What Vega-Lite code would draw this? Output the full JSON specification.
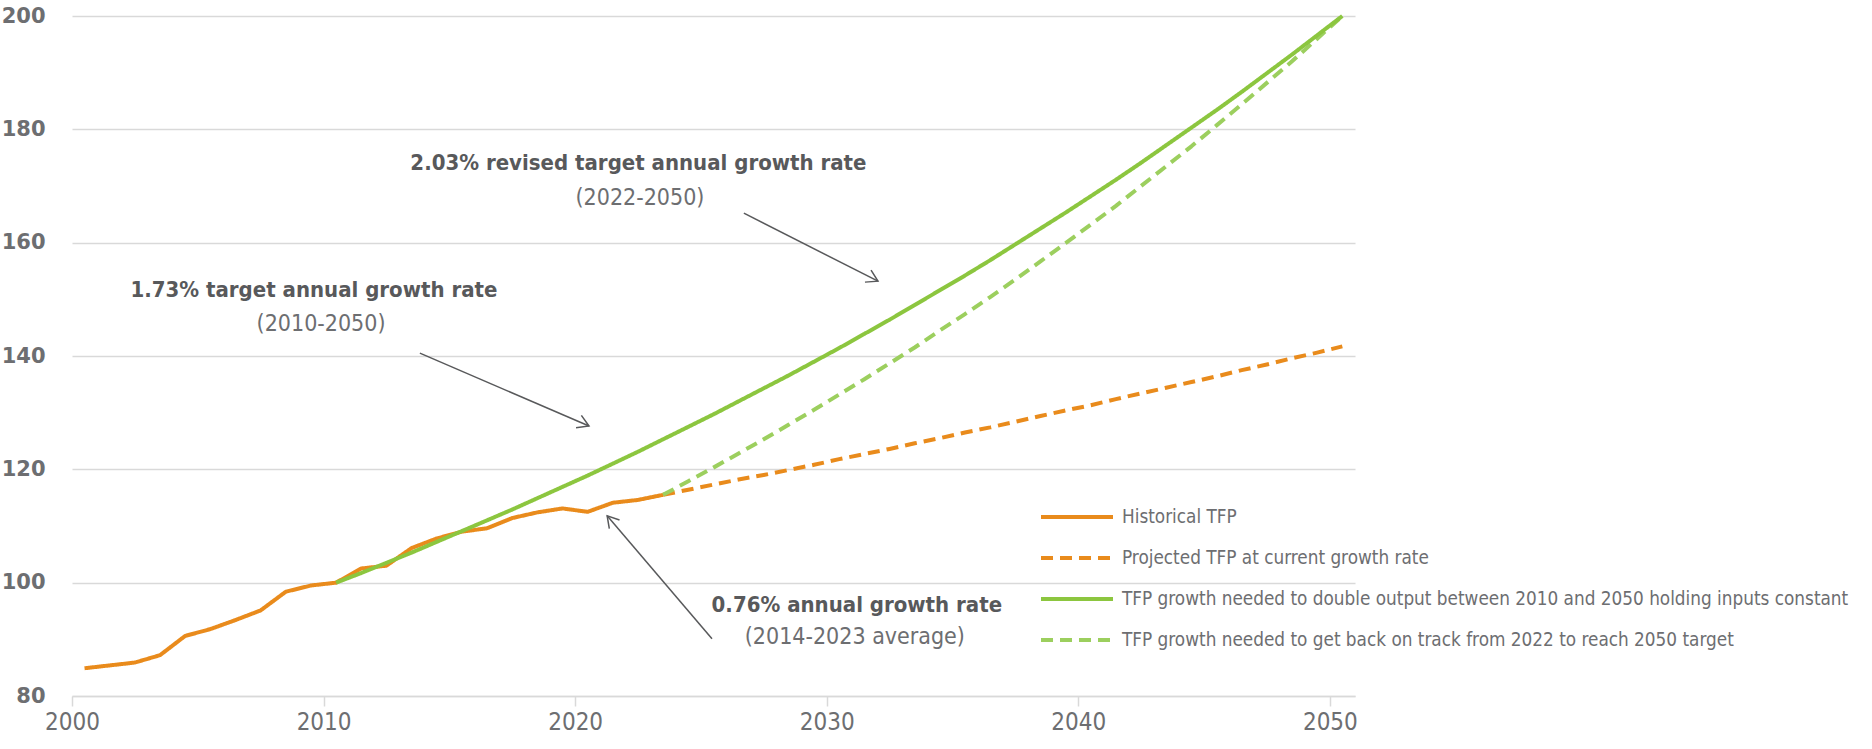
{
  "$schema": "https://vega.github.io/schema/vega-lite/v6.json",
  "width": 1283,
  "height": 680,
  "autosize": {"type": "none"},
  "padding": {"left": 72, "top": 16, "right": 517, "bottom": 53},
  "background": "white",
  "config": {"view": {"stroke": null}, "font": "DejaVu Sans Condensed, sans-serif"},
  "datasets": {
    "tfp": [
      {"series": "Historical TFP", "date": "2000-07-01", "value": 84.9},
      {"series": "Historical TFP", "date": "2001-07-01", "value": 85.4},
      {"series": "Historical TFP", "date": "2002-07-01", "value": 85.9},
      {"series": "Historical TFP", "date": "2003-07-01", "value": 87.2},
      {"series": "Historical TFP", "date": "2004-07-01", "value": 90.6},
      {"series": "Historical TFP", "date": "2005-07-01", "value": 91.8},
      {"series": "Historical TFP", "date": "2006-07-01", "value": 93.4},
      {"series": "Historical TFP", "date": "2007-07-01", "value": 95.1},
      {"series": "Historical TFP", "date": "2008-07-01", "value": 98.4},
      {"series": "Historical TFP", "date": "2009-07-01", "value": 99.5},
      {"series": "Historical TFP", "date": "2010-07-01", "value": 100.0},
      {"series": "Historical TFP", "date": "2011-07-01", "value": 102.5},
      {"series": "Historical TFP", "date": "2012-07-01", "value": 103.0},
      {"series": "Historical TFP", "date": "2013-07-01", "value": 106.1},
      {"series": "Historical TFP", "date": "2014-07-01", "value": 107.8},
      {"series": "Historical TFP", "date": "2015-07-01", "value": 109.0},
      {"series": "Historical TFP", "date": "2016-07-01", "value": 109.6},
      {"series": "Historical TFP", "date": "2017-07-01", "value": 111.4},
      {"series": "Historical TFP", "date": "2018-07-01", "value": 112.4},
      {"series": "Historical TFP", "date": "2019-07-01", "value": 113.1},
      {"series": "Historical TFP", "date": "2020-07-01", "value": 112.5},
      {"series": "Historical TFP", "date": "2021-07-01", "value": 114.1},
      {"series": "Historical TFP", "date": "2022-07-01", "value": 114.6},
      {"series": "Historical TFP", "date": "2023-07-01", "value": 115.5},
      {"series": "Projected TFP at current growth rate", "date": "2023-07-01", "value": 115.5},
      {"series": "Projected TFP at current growth rate", "date": "2024-07-01", "value": 116.4},
      {"series": "Projected TFP at current growth rate", "date": "2025-07-01", "value": 117.3},
      {"series": "Projected TFP at current growth rate", "date": "2026-07-01", "value": 118.2},
      {"series": "Projected TFP at current growth rate", "date": "2027-07-01", "value": 119.0},
      {"series": "Projected TFP at current growth rate", "date": "2028-07-01", "value": 119.9},
      {"series": "Projected TFP at current growth rate", "date": "2029-07-01", "value": 120.8},
      {"series": "Projected TFP at current growth rate", "date": "2030-07-01", "value": 121.8},
      {"series": "Projected TFP at current growth rate", "date": "2031-07-01", "value": 122.7},
      {"series": "Projected TFP at current growth rate", "date": "2032-07-01", "value": 123.6},
      {"series": "Projected TFP at current growth rate", "date": "2033-07-01", "value": 124.6},
      {"series": "Projected TFP at current growth rate", "date": "2034-07-01", "value": 125.5},
      {"series": "Projected TFP at current growth rate", "date": "2035-07-01", "value": 126.5},
      {"series": "Projected TFP at current growth rate", "date": "2036-07-01", "value": 127.4},
      {"series": "Projected TFP at current growth rate", "date": "2037-07-01", "value": 128.4},
      {"series": "Projected TFP at current growth rate", "date": "2038-07-01", "value": 129.4},
      {"series": "Projected TFP at current growth rate", "date": "2039-07-01", "value": 130.4},
      {"series": "Projected TFP at current growth rate", "date": "2040-07-01", "value": 131.3},
      {"series": "Projected TFP at current growth rate", "date": "2041-07-01", "value": 132.4},
      {"series": "Projected TFP at current growth rate", "date": "2042-07-01", "value": 133.4},
      {"series": "Projected TFP at current growth rate", "date": "2043-07-01", "value": 134.4},
      {"series": "Projected TFP at current growth rate", "date": "2044-07-01", "value": 135.4},
      {"series": "Projected TFP at current growth rate", "date": "2045-07-01", "value": 136.4},
      {"series": "Projected TFP at current growth rate", "date": "2046-07-01", "value": 137.5},
      {"series": "Projected TFP at current growth rate", "date": "2047-07-01", "value": 138.5},
      {"series": "Projected TFP at current growth rate", "date": "2048-07-01", "value": 139.6},
      {"series": "Projected TFP at current growth rate", "date": "2049-07-01", "value": 140.6},
      {"series": "Projected TFP at current growth rate", "date": "2050-07-01", "value": 141.7},
      {"series": "TFP growth needed to get back on track from 2022 to reach 2050 target", "date": "2023-07-01", "value": 115.5},
      {"series": "TFP growth needed to get back on track from 2022 to reach 2050 target", "date": "2024-07-01", "value": 117.9},
      {"series": "TFP growth needed to get back on track from 2022 to reach 2050 target", "date": "2025-07-01", "value": 120.3},
      {"series": "TFP growth needed to get back on track from 2022 to reach 2050 target", "date": "2026-07-01", "value": 122.8},
      {"series": "TFP growth needed to get back on track from 2022 to reach 2050 target", "date": "2027-07-01", "value": 125.3},
      {"series": "TFP growth needed to get back on track from 2022 to reach 2050 target", "date": "2028-07-01", "value": 127.9},
      {"series": "TFP growth needed to get back on track from 2022 to reach 2050 target", "date": "2029-07-01", "value": 130.5},
      {"series": "TFP growth needed to get back on track from 2022 to reach 2050 target", "date": "2030-07-01", "value": 133.2},
      {"series": "TFP growth needed to get back on track from 2022 to reach 2050 target", "date": "2031-07-01", "value": 135.9},
      {"series": "TFP growth needed to get back on track from 2022 to reach 2050 target", "date": "2032-07-01", "value": 138.7},
      {"series": "TFP growth needed to get back on track from 2022 to reach 2050 target", "date": "2033-07-01", "value": 141.5},
      {"series": "TFP growth needed to get back on track from 2022 to reach 2050 target", "date": "2034-07-01", "value": 144.5},
      {"series": "TFP growth needed to get back on track from 2022 to reach 2050 target", "date": "2035-07-01", "value": 147.4},
      {"series": "TFP growth needed to get back on track from 2022 to reach 2050 target", "date": "2036-07-01", "value": 150.4},
      {"series": "TFP growth needed to get back on track from 2022 to reach 2050 target", "date": "2037-07-01", "value": 153.5},
      {"series": "TFP growth needed to get back on track from 2022 to reach 2050 target", "date": "2038-07-01", "value": 156.7},
      {"series": "TFP growth needed to get back on track from 2022 to reach 2050 target", "date": "2039-07-01", "value": 159.9},
      {"series": "TFP growth needed to get back on track from 2022 to reach 2050 target", "date": "2040-07-01", "value": 163.2},
      {"series": "TFP growth needed to get back on track from 2022 to reach 2050 target", "date": "2041-07-01", "value": 166.5},
      {"series": "TFP growth needed to get back on track from 2022 to reach 2050 target", "date": "2042-07-01", "value": 170.0},
      {"series": "TFP growth needed to get back on track from 2022 to reach 2050 target", "date": "2043-07-01", "value": 173.5},
      {"series": "TFP growth needed to get back on track from 2022 to reach 2050 target", "date": "2044-07-01", "value": 177.0},
      {"series": "TFP growth needed to get back on track from 2022 to reach 2050 target", "date": "2045-07-01", "value": 180.7},
      {"series": "TFP growth needed to get back on track from 2022 to reach 2050 target", "date": "2046-07-01", "value": 184.4},
      {"series": "TFP growth needed to get back on track from 2022 to reach 2050 target", "date": "2047-07-01", "value": 188.2},
      {"series": "TFP growth needed to get back on track from 2022 to reach 2050 target", "date": "2048-07-01", "value": 192.0},
      {"series": "TFP growth needed to get back on track from 2022 to reach 2050 target", "date": "2049-07-01", "value": 196.0},
      {"series": "TFP growth needed to get back on track from 2022 to reach 2050 target", "date": "2050-07-01", "value": 200.0},
      {"series": "TFP growth needed to double output between 2010 and 2050 holding inputs constant", "date": "2010-07-01", "value": 100.0},
      {"series": "TFP growth needed to double output between 2010 and 2050 holding inputs constant", "date": "2011-07-01", "value": 101.7},
      {"series": "TFP growth needed to double output between 2010 and 2050 holding inputs constant", "date": "2012-07-01", "value": 103.5},
      {"series": "TFP growth needed to double output between 2010 and 2050 holding inputs constant", "date": "2013-07-01", "value": 105.3},
      {"series": "TFP growth needed to double output between 2010 and 2050 holding inputs constant", "date": "2014-07-01", "value": 107.2},
      {"series": "TFP growth needed to double output between 2010 and 2050 holding inputs constant", "date": "2015-07-01", "value": 109.1},
      {"series": "TFP growth needed to double output between 2010 and 2050 holding inputs constant", "date": "2016-07-01", "value": 111.0},
      {"series": "TFP growth needed to double output between 2010 and 2050 holding inputs constant", "date": "2017-07-01", "value": 112.9},
      {"series": "TFP growth needed to double output between 2010 and 2050 holding inputs constant", "date": "2018-07-01", "value": 114.9},
      {"series": "TFP growth needed to double output between 2010 and 2050 holding inputs constant", "date": "2019-07-01", "value": 116.9},
      {"series": "TFP growth needed to double output between 2010 and 2050 holding inputs constant", "date": "2020-07-01", "value": 118.9},
      {"series": "TFP growth needed to double output between 2010 and 2050 holding inputs constant", "date": "2021-07-01", "value": 121.0},
      {"series": "TFP growth needed to double output between 2010 and 2050 holding inputs constant", "date": "2022-07-01", "value": 123.1},
      {"series": "TFP growth needed to double output between 2010 and 2050 holding inputs constant", "date": "2023-07-01", "value": 125.3},
      {"series": "TFP growth needed to double output between 2010 and 2050 holding inputs constant", "date": "2024-07-01", "value": 127.5},
      {"series": "TFP growth needed to double output between 2010 and 2050 holding inputs constant", "date": "2025-07-01", "value": 129.7},
      {"series": "TFP growth needed to double output between 2010 and 2050 holding inputs constant", "date": "2026-07-01", "value": 132.0},
      {"series": "TFP growth needed to double output between 2010 and 2050 holding inputs constant", "date": "2027-07-01", "value": 134.3},
      {"series": "TFP growth needed to double output between 2010 and 2050 holding inputs constant", "date": "2028-07-01", "value": 136.6},
      {"series": "TFP growth needed to double output between 2010 and 2050 holding inputs constant", "date": "2029-07-01", "value": 139.0},
      {"series": "TFP growth needed to double output between 2010 and 2050 holding inputs constant", "date": "2030-07-01", "value": 141.4},
      {"series": "TFP growth needed to double output between 2010 and 2050 holding inputs constant", "date": "2031-07-01", "value": 143.9},
      {"series": "TFP growth needed to double output between 2010 and 2050 holding inputs constant", "date": "2032-07-01", "value": 146.4},
      {"series": "TFP growth needed to double output between 2010 and 2050 holding inputs constant", "date": "2033-07-01", "value": 149.0},
      {"series": "TFP growth needed to double output between 2010 and 2050 holding inputs constant", "date": "2034-07-01", "value": 151.6},
      {"series": "TFP growth needed to double output between 2010 and 2050 holding inputs constant", "date": "2035-07-01", "value": 154.2},
      {"series": "TFP growth needed to double output between 2010 and 2050 holding inputs constant", "date": "2036-07-01", "value": 156.9},
      {"series": "TFP growth needed to double output between 2010 and 2050 holding inputs constant", "date": "2037-07-01", "value": 159.7},
      {"series": "TFP growth needed to double output between 2010 and 2050 holding inputs constant", "date": "2038-07-01", "value": 162.5},
      {"series": "TFP growth needed to double output between 2010 and 2050 holding inputs constant", "date": "2039-07-01", "value": 165.3},
      {"series": "TFP growth needed to double output between 2010 and 2050 holding inputs constant", "date": "2040-07-01", "value": 168.2},
      {"series": "TFP growth needed to double output between 2010 and 2050 holding inputs constant", "date": "2041-07-01", "value": 171.1},
      {"series": "TFP growth needed to double output between 2010 and 2050 holding inputs constant", "date": "2042-07-01", "value": 174.1},
      {"series": "TFP growth needed to double output between 2010 and 2050 holding inputs constant", "date": "2043-07-01", "value": 177.2},
      {"series": "TFP growth needed to double output between 2010 and 2050 holding inputs constant", "date": "2044-07-01", "value": 180.3},
      {"series": "TFP growth needed to double output between 2010 and 2050 holding inputs constant", "date": "2045-07-01", "value": 183.4},
      {"series": "TFP growth needed to double output between 2010 and 2050 holding inputs constant", "date": "2046-07-01", "value": 186.6},
      {"series": "TFP growth needed to double output between 2010 and 2050 holding inputs constant", "date": "2047-07-01", "value": 189.9},
      {"series": "TFP growth needed to double output between 2010 and 2050 holding inputs constant", "date": "2048-07-01", "value": 193.2},
      {"series": "TFP growth needed to double output between 2010 and 2050 holding inputs constant", "date": "2049-07-01", "value": 196.6},
      {"series": "TFP growth needed to double output between 2010 and 2050 holding inputs constant", "date": "2050-07-01", "value": 200.0}
    ],
    "notes": [
      {"kind": "head", "text": "2.03% revised target annual growth rate", "date": "2022-07-08", "value": 174.1},
      {"kind": "sub", "text": "(2022-2050)", "date": "2022-07-30", "value": 167.9},
      {"kind": "head", "text": "1.73% target annual growth rate", "date": "2009-08-14", "value": 151.7},
      {"kind": "sub", "text": "(2010-2050)", "date": "2009-11-25", "value": 145.7},
      {"kind": "head", "text": "0.76% annual growth rate", "date": "2031-03-14", "value": 96.1},
      {"kind": "sub", "text": "(2014-2023 average)", "date": "2031-02-13", "value": 90.4}
    ],
    "arrows": [
      {"from_date": "2026-09-16", "from_value": 165.2, "to_date": "2032-01-15", "to_value": 153.2, "angle": 26.9},
      {"from_date": "2013-10-30", "from_value": 140.5, "to_date": "2020-07-20", "to_value": 127.65, "angle": 23.4},
      {"from_date": "2025-06-10", "from_value": 90.1, "to_date": "2021-04-10", "to_value": 111.8, "angle": 229.5}
    ]
  },
  "layer": [
    {
      "data": {"name": "tfp"},
      "mark": {"type": "line", "strokeWidth": 4, "strokeCap": "butt", "strokeJoin": "round"},
      "encoding": {
        "x": {
          "field": "date", "type": "temporal",
          "scale": {"type": "utc", "domain": [{"year": 2000, "utc": true}, {"year": 2051, "utc": true}]},
          "axis": {
            "title": null, "format": "%Y", "grid": false,
            "values": [{"year": 2000, "utc": true}, {"year": 2010, "utc": true}, {"year": 2020, "utc": true}, {"year": 2030, "utc": true}, {"year": 2040, "utc": true}, {"year": 2050, "utc": true}],
            "domain": true, "domainColor": "#D9D9D9", "domainWidth": 1.5,
            "ticks": true, "tickColor": "#D9D9D9", "tickWidth": 1.5, "tickSize": 10,
            "labelFontSize": 24, "labelColor": "#6D6E71", "labelPadding": 4, "labelFlush": false, "labelOverlap": false
          }
        },
        "y": {
          "field": "value", "type": "quantitative",
          "scale": {"domain": [80, 200], "nice": false, "zero": false},
          "axis": {
            "title": null, "values": [80, 100, 120, 140, 160, 180, 200],
            "domain": false, "ticks": false, "grid": true, "gridColor": "#D9D9D9", "gridWidth": 1.5,
            "labelFont": "DejaVu Sans", "labelFontWeight": "bold", "labelFontSize": 21, "labelColor": "#6D6E71", "labelPadding": 27
          }
        },
        "color": {
          "field": "series", "type": "nominal",
          "scale": {
            "domain": ["Historical TFP", "Projected TFP at current growth rate", "TFP growth needed to double output between 2010 and 2050 holding inputs constant", "TFP growth needed to get back on track from 2022 to reach 2050 target"],
            "range": ["#E98B1C", "#E98B1C", "#8CC63F", "#9CCF5E"]
          },
          "legend": {
            "title": null, "orient": "none", "legendX": 991, "legendY": 487, "padding": 0,
            "symbolType": "M-3,0H3", "symbolSize": 576, "symbolStrokeWidth": 4, "symbolOffset": 0,
            "labelFontSize": 18.8, "labelColor": "#6D6E71", "labelOffset": 31, "labelLimit": 1000,
            "rowPadding": 17
          }
        },
        "strokeDash": {
          "field": "series", "type": "nominal",
          "scale": {
            "domain": ["Historical TFP", "Projected TFP at current growth rate", "TFP growth needed to double output between 2010 and 2050 holding inputs constant", "TFP growth needed to get back on track from 2022 to reach 2050 target"],
            "range": [[1, 0], [12, 7], [1, 0], [12, 7]]
          },
          "legend": {
            "title": null, "orient": "none", "legendX": 991, "legendY": 487, "padding": 0,
            "symbolType": "M-3,0H3", "symbolSize": 576, "symbolStrokeWidth": 4, "symbolOffset": 0,
            "labelFontSize": 18.8, "labelColor": "#6D6E71", "labelOffset": 31, "labelLimit": 1000,
            "rowPadding": 17
          }
        }
      }
    },
    {
      "data": {"name": "arrows"},
      "mark": {"type": "rule", "color": "#58595B", "strokeWidth": 1.5},
      "encoding": {
        "x": {"field": "from_date", "type": "temporal"},
        "y": {"field": "from_value", "type": "quantitative"},
        "x2": {"field": "to_date"},
        "y2": {"field": "to_value"}
      }
    },
    {
      "data": {"name": "arrows"},
      "mark": {"type": "point", "shape": "M-1,-0.6L0,0L-1,0.6", "size": 500, "filled": false, "stroke": "#58595B", "strokeWidth": 1.5, "opacity": 1},
      "encoding": {
        "x": {"field": "to_date", "type": "temporal"},
        "y": {"field": "to_value", "type": "quantitative"},
        "angle": {"field": "angle", "type": "quantitative", "scale": null}
      }
    },
    {
      "data": {"name": "notes"},
      "transform": [{"filter": "datum.kind === 'head'"}],
      "mark": {"type": "text", "fontSize": 22, "fontWeight": "bold", "color": "#58595B", "align": "center", "baseline": "middle"},
      "encoding": {
        "x": {"field": "date", "type": "temporal"},
        "y": {"field": "value", "type": "quantitative"},
        "text": {"field": "text"}
      }
    },
    {
      "data": {"name": "notes"},
      "transform": [{"filter": "datum.kind === 'sub'"}],
      "mark": {"type": "text", "fontSize": 23, "color": "#6D6E71", "align": "center", "baseline": "middle"},
      "encoding": {
        "x": {"field": "date", "type": "temporal"},
        "y": {"field": "value", "type": "quantitative"},
        "text": {"field": "text"}
      }
    }
  ]
}
